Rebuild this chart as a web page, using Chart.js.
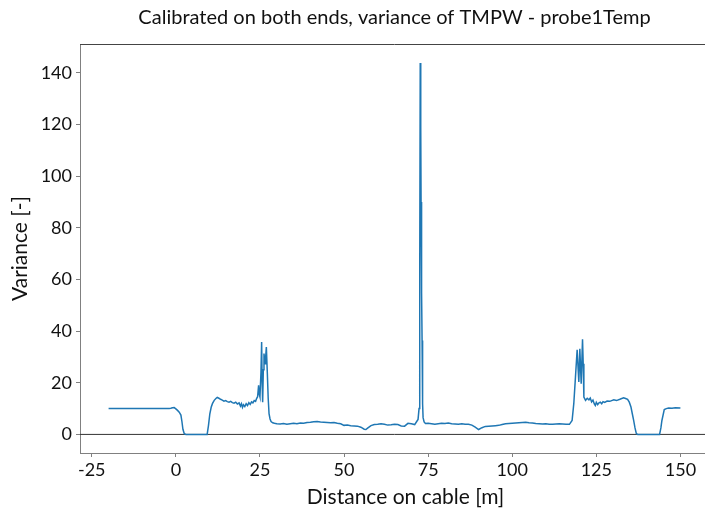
<!DOCTYPE html>
<html><head><meta charset="utf-8">
<script src="https://cdn.jsdelivr.net/npm/chart.js"></script>
<style>html,body{margin:0;padding:0;background:#fff;overflow:hidden;width:705px;height:515px}canvas{display:block}</style>
</head><body>
<canvas id="c" width="720" height="515" style="width:720px;height:515px"></canvas>
<script>
const titleText = "Calibrated on both ends, variance of TMPW - probe1Temp";
const xTitle = "Distance on cable [m]";
const yTitle = "Variance [-]";
const xTicks = [-25, 0, 25, 50, 75, 100, 125, 150];
const yTicks = [0, 20, 40, 60, 80, 100, 120, 140];
const xRange = [-28.5, 158.5];
const yRange = [-7.2, 151.2];

const distance = [
  -20, -15, -10, -5, -2, -1.5, -1, -0.5, 0, 0.5, 1, 1.5, 1.8, 2.1, 2.5, 3, 6, 9.3,
  9.7, 10.1, 10.5, 10.9, 11.4, 11.9, 12.3, 12.8, 13.3, 13.8, 14.3, 14.8, 15.3, 15.8,
  16.3, 16.8, 17.3, 17.8, 18.3, 18.8, 19.2, 19.5, 19.8, 20.1, 20.5, 20.9, 21.3, 21.7,
  22.1, 22.5, 22.9, 23.3, 23.7, 24.0, 24.3, 24.6, 24.8, 25.0, 25.3, 25.5, 25.65, 25.8,
  26.0, 26.2, 26.5, 26.7, 26.9, 27.2, 27.45, 27.7, 28.0, 28.3, 28.8, 29.3,
  30, 31, 32, 33, 34, 35, 36, 37, 38, 39, 40, 41, 42, 43, 44, 45, 46, 47, 48, 49,
  50, 51, 52, 53, 54, 55, 56, 56.5, 57, 58, 59, 60, 61, 62, 63, 64, 65, 66, 67, 68, 69,
  70, 71, 71.6, 72.0, 72.3, 72.5, 72.65, 72.8, 72.9, 73.05, 73.2, 73.35, 73.5, 73.8, 74.2,
  75, 76, 77, 78, 79, 80, 81, 82, 83, 84, 85, 86, 87, 88, 89, 90, 91, 92, 93, 94,
  95, 96, 97, 98, 99, 100, 101, 102, 103, 104, 105, 106, 107, 108, 109, 110, 111, 112,
  113, 114, 115, 116, 117, 117.8, 118.3, 118.8, 119.3, 119.8, 120.1, 120.5, 120.9, 121.1,
  121.3, 121.8, 122.3, 122.8, 123.2, 123.6, 124.0, 124.4, 124.7, 125.0, 125.4, 125.8,
  126.2, 126.6, 127.0, 127.5, 128.2, 129.0, 130.2, 131.0, 132.0, 133.1, 133.7, 134.3,
  134.8, 135.3, 135.7, 136.1, 136.5, 136.9, 137.3, 143.8, 144.2, 144.5, 145.2, 145.8,
  146.5, 147.5, 148.5, 150
];
const variance = [
  10.0, 10.0, 10.0, 10.0, 10.0, 10.1, 10.3, 10.4, 9.9, 9.3, 8.6, 7.5, 5.0, 2.0, 0.3, 0, 0, 0,
  3.5, 8.0, 10.5, 12.0, 13.2, 13.9, 14.3, 14.0, 13.6, 13.3, 12.9, 13.1, 12.7, 12.5,
  12.8, 12.3, 12.1, 12.5, 11.8, 12.2, 11.0, 11.9, 10.5, 11.5, 10.8, 11.9, 11.2, 12.3,
  11.6, 12.6, 12.2, 13.1, 12.8, 13.9, 14.6, 19.0, 15.5, 14.5, 24.0, 35.8, 20.0, 12.5,
  25.0, 31.3, 27.4, 30.0, 33.8, 23.5, 14.0, 8.0, 6.0, 5.0, 4.5, 4.3,
  4.1, 4.0, 4.2, 3.9, 4.1, 4.3, 4.1, 4.4, 4.3, 4.6, 4.7, 4.9, 5.0, 4.8, 4.7, 4.6, 4.5, 4.6, 4.3, 4.1,
  3.5, 3.6, 3.4, 3.3, 3.2, 2.8, 2.0, 1.9, 2.4, 3.4, 3.8, 3.9, 4.1, 3.9, 3.6, 3.7, 3.9, 3.8, 3.3, 3.2, 4.3,
  4.1, 3.8, 5.0, 5.8, 10.0, 60.0, 143.8, 119.0, 90.0, 55.0, 36.4, 12.0, 6.5, 4.8, 4.2,
  4.3, 4.1, 3.9, 4.1, 4.3, 4.2, 4.4, 4.1, 4.0, 3.9, 4.1, 3.9, 3.9, 3.6, 2.8, 1.9, 2.6, 3.1, 3.2, 3.3,
  3.4, 3.5, 3.8, 4.1, 4.2, 4.3, 4.4, 4.5, 4.6, 4.7, 4.5, 4.4, 4.2, 4.1, 4.0, 4.1, 3.9, 3.9,
  4.0, 4.1, 4.0, 3.9, 3.9, 5.4, 11.9, 22.2, 32.8, 20.3, 33.2, 19.6, 36.8, 27.4,
  14.5, 13.2, 14.0, 13.4, 14.1, 12.6, 13.3, 11.8, 11.2, 12.4, 11.5, 12.2,
  12.5, 11.9, 12.7, 12.4, 12.9, 12.8, 13.4, 13.1, 13.6, 14.2, 13.9, 13.6,
  12.5, 10.6, 8.0, 5.4, 2.5, 0.3, 0, 0, 2.5, 5.4, 9.6, 10.0,
  10.2, 10.1, 10.3, 10.2
];
const zeroLineX = [-28.5, 158.5];
const zeroLineY = [0, 0];

const FONT = "Lato, 'Open Sans', sans-serif";

const extras = {
  id: 'extras',
  afterDraw(chart) {
    const {ctx, chartArea: a} = chart;
    ctx.save();
    ctx.strokeStyle = '#444';
    ctx.lineWidth = 1;
    ctx.beginPath();
    ctx.moveTo(a.left, a.top + 0.5);
    ctx.lineTo(a.right, a.top + 0.5);
    ctx.stroke();
    // x-axis label
    const xs = chart.scales.x;
    ctx.fillStyle = '#111';
    ctx.font = '21px ' + FONT;
    ctx.textAlign = 'center';
    ctx.textBaseline = 'middle';
    ctx.fillText(xTitle, (a.left + a.right) / 2 + 11, xs.bottom - 18);
    ctx.restore();
  }
};

new Chart(document.getElementById('c'), {
  type: 'line',
  data: {
    datasets: [
      {
        data: distance.map((x, i) => ({x, y: variance[i]})),
        borderColor: '#1f77b4',
        borderWidth: 1.5,
        pointRadius: 0,
        tension: 0,
        order: 0
      },
      {
        data: zeroLineX.map((x, i) => ({x, y: zeroLineY[i]})),
        borderColor: '#333',
        borderWidth: 1,
        pointRadius: 0,
        order: 1
      }
    ]
  },
  options: {
    responsive: false,
    animation: false,
    layout: {padding: {left: 0, right: 11, top: 0, bottom: 0}},
    plugins: {
      legend: {display: false},
      tooltip: {enabled: false},
      title: {
        display: true,
        text: titleText,
        fullSize: false,
        color: '#111',
        font: {family: FONT, size: 20, weight: 'normal'},
        padding: {top: 6, bottom: 14}
      }
    },
    scales: {
      x: {
        type: 'linear',
        min: xRange[0],
        max: xRange[1],
        afterBuildTicks(s) { s.ticks = xTicks.map(v => ({value: v})); },
        afterFit(s) { s.height = 62; },
        grid: {display: true, drawOnChartArea: false, drawTicks: true, tickLength: 4, color: '#808080'},
        border: {display: true, color: '#808080', width: 1},
        ticks: {color: '#111', font: {family: FONT, size: 18}, padding: 2, maxRotation: 0},
        title: {display: false}
      },
      y: {
        type: 'linear',
        min: yRange[0],
        max: yRange[1],
        afterBuildTicks(s) { s.ticks = yTicks.map(v => ({value: v})); },
        afterFit(s) { s.width = 80; },
        grid: {display: true, drawOnChartArea: false, drawTicks: true, tickLength: 4, color: '#808080'},
        border: {display: true, color: '#808080', width: 1},
        ticks: {color: '#111', font: {family: FONT, size: 18}, padding: 4},
        title: {display: true, text: yTitle, color: '#111', font: {family: FONT, size: 21}, padding: {top: 7.4, bottom: 0}}
      }
    }
  },
  plugins: [extras]
});
</script>
</body></html>
